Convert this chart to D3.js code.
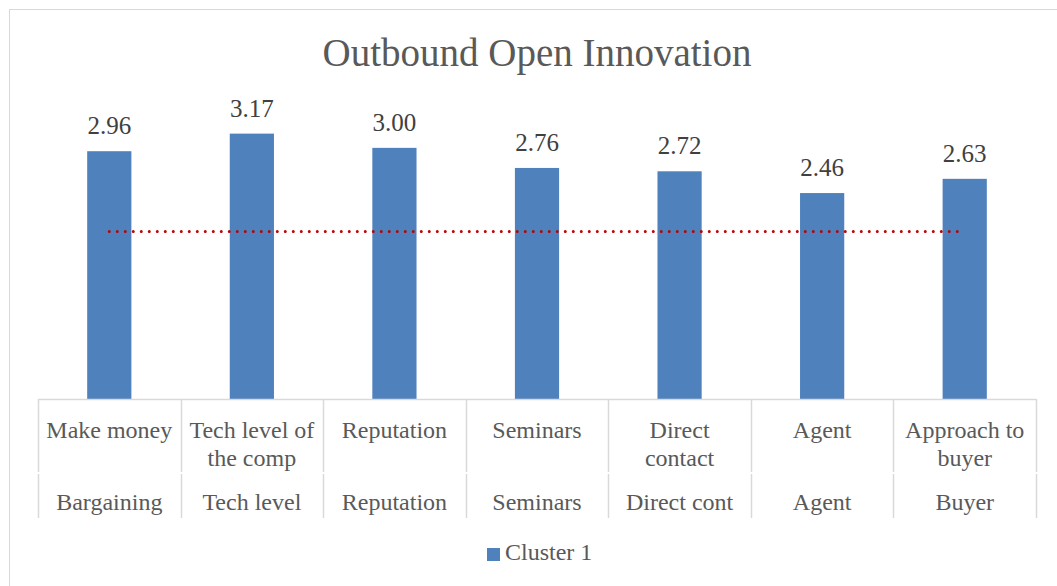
<!DOCTYPE html>
<html>
<head>
<meta charset="utf-8">
<script src="https://cdnjs.cloudflare.com/ajax/libs/d3/7.8.5/d3.min.js"></script>
<style>
  body { margin: 0; background: #fff; }
  text { font-family: "Liberation Serif", serif; }
</style>
</head>
<body>
<script>
// chart data
var labels = [["Make money"], ["Tech level of", "the comp"], ["Reputation"], ["Seminars"],
              ["Direct", "contact"], ["Agent"], ["Approach to", "buyer"]];
var groups = ["Bargaining", "Tech level", "Reputation", "Seminars", "Direct cont", "Agent", "Buyer"];
var values = [2.96, 3.17, 3.00, 2.76, 2.72, 2.46, 2.63];
var refValue = 2.0;
var seriesName = "Cluster 1";
var title = "Outbound Open Innovation";

var w = 1057, h = 586;

var svg = d3.select("body").append("svg")
    .attr("width", w)
    .attr("height", h);

// outer chart border
svg.append("rect")
    .attr("x", 9.5).attr("y", 9.5)
    .attr("width", 1060).attr("height", 600)
    .attr("fill", "#fff")
    .attr("stroke", "#d9d9d9");

var idx = d3.range(values.length);

var x = d3.scaleBand()
    .domain(idx)
    .range([38, 1036])
    .padding(0);

var y = d3.scaleLinear()
    .domain([0, 3.5])
    .range([399, 106]);

var barW = x.bandwidth() * 0.31;

// title
svg.append("text")
    .attr("x", 537)
    .attr("y", 66)
    .attr("text-anchor", "middle")
    .attr("fill", "#595959")
    .style("font-size", "39px")
    .text(title);

// bars
svg.selectAll(".bar")
    .data(values)
    .enter()
    .append("rect")
    .attr("class", "bar")
    .attr("x", function(d, i) { return x(i) + (x.bandwidth() - barW) / 2; })
    .attr("y", function(d) { return y(d); })
    .attr("width", barW)
    .attr("height", function(d) { return y(0) - y(d); })
    .attr("fill", "#4f81bd");

// data labels
svg.selectAll(".val")
    .data(values)
    .enter()
    .append("text")
    .attr("class", "val")
    .attr("x", function(d, i) { return x(i) + x.bandwidth() / 2; })
    .attr("y", function(d) { return y(d) - 17; })
    .attr("text-anchor", "middle")
    .attr("fill", "#404040")
    .style("font-size", "25px")
    .text(function(d) { return d.toFixed(2); });

// dotted reference line
svg.append("line")
    .attr("x1", x(0) + x.bandwidth() / 2)
    .attr("x2", x(values.length - 1) + x.bandwidth() / 2)
    .attr("y1", y(refValue))
    .attr("y2", y(refValue))
    .attr("stroke", "#c00000")
    .attr("stroke-width", 3)
    .attr("stroke-linecap", "round")
    .attr("stroke-dasharray", "0 8");

// category axis (two levels)
var axisColor = "#d9d9d9";
var base = y(0);
svg.append("line")
    .attr("x1", 38).attr("x2", 1036)
    .attr("y1", base + 0.5).attr("y2", base + 0.5)
    .attr("stroke", axisColor)
    .attr("stroke-width", 1.5);

var seps = d3.range(values.length + 1).map(function(i) {
    return i < values.length ? x(i) : x(values.length - 1) + x.bandwidth();
});
svg.selectAll(".sep1")
    .data(seps)
    .enter()
    .append("line")
    .attr("x1", function(d) { return Math.round(d) + 0.5; })
    .attr("x2", function(d) { return Math.round(d) + 0.5; })
    .attr("y1", base).attr("y2", 472)
    .attr("stroke", axisColor)
    .attr("stroke-width", 1.5);
svg.selectAll(".sep2")
    .data(seps)
    .enter()
    .append("line")
    .attr("x1", function(d) { return Math.round(d) + 0.5; })
    .attr("x2", function(d) { return Math.round(d) + 0.5; })
    .attr("y1", 474).attr("y2", 518)
    .attr("stroke", axisColor)
    .attr("stroke-width", 1.5);

var lab = svg.selectAll(".lab")
    .data(labels)
    .enter()
    .append("text")
    .attr("class", "lab")
    .attr("text-anchor", "middle")
    .attr("fill", "#595959")
    .style("font-size", "24px")
    .attr("transform", function(d, i) {
        return "translate(" + (x(i) + x.bandwidth() / 2) + ",438)";
    });
lab.selectAll("tspan")
    .data(function(d) { return d; })
    .enter()
    .append("tspan")
    .attr("x", 0)
    .attr("y", function(d, j) { return j * 28; })
    .text(function(d) { return d; });

svg.selectAll(".grp")
    .data(groups)
    .enter()
    .append("text")
    .attr("class", "grp")
    .attr("x", function(d, i) { return x(i) + x.bandwidth() / 2; })
    .attr("y", 510)
    .attr("text-anchor", "middle")
    .attr("fill", "#595959")
    .style("font-size", "24px")
    .text(function(d) { return d; });

// legend
var legend = svg.append("g").attr("transform", "translate(487,548)");
legend.append("rect")
    .attr("width", 13).attr("height", 13)
    .attr("fill", "#4f81bd");
legend.append("text")
    .attr("x", 18).attr("y", 12)
    .attr("fill", "#595959")
    .style("font-size", "24px")
    .text(seriesName);
</script>
</body>
</html>
